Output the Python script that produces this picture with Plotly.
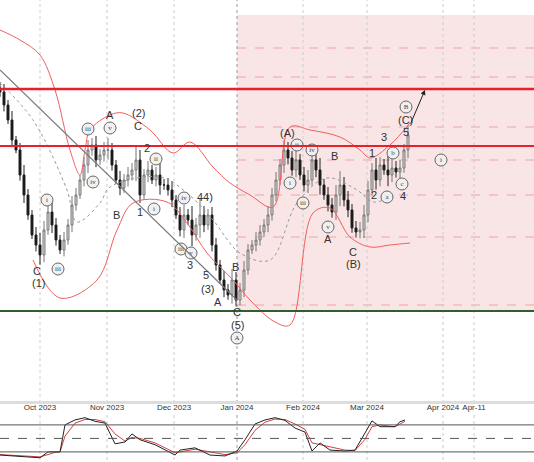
import plotly.graph_objects as go

# closes (screen-y units, converted to price = 1000 - y)
close_y = [92,105,120,140,150,175,195,215,235,245,255,230,212,225,240,250,240,225,205,195,180,165,150,145,160,155,150,150,165,180,188,180,175,170,160,195,175,170,180,175,185,185,190,200,215,230,215,220,235,225,215,225,215,245,265,280,290,295,280,300,290,270,250,245,240,232,225,215,195,180,165,150,158,170,160,175,185,180,160,170,185,195,205,212,195,185,200,210,228,232,230,215,190,170,180,165,170,175,168,172,168,150,135]
wick = [6,8,5,9,4,7,10,6,5,8,12,9,6,10,7,5,8,6,9,7,5,8,10,7,9,6,8,12,7,5,9,6,8,7,14,10,6,9,5,8,12,6,7,9,5,8,10,6,14,7,16,9,6,8,7,5,9,6,11,8,7,9,6,5,8,7,6,9,7,8,6,10,8,7,9,6,8,10,7,9,12,6,8,7,10,14,8,9,6,7,8,10,9,7,12,8,6,14,9,7,8,6,10]

ub_x = [0,20,40,55,70,80,85,90,110,123,150,173,190,213,230,250,273,290,310,340,360,370,390,410]
ub_y = [30,40,55,90,150,175,150,130,115,113,130,153,142,167,183,195,207,127,130,137,150,158,145,123]
lb_x = [33,60,97,117,133,167,187,207,233,250,275,290,313,330,350,370,390,410]
lb_y = [260,298,280,230,203,202,223,253,280,300,322,325,213,208,237,247,245,243]
mb_x = [0,33,67,77,100,110,160,187,213,240,270,297,327,357,373,390]
mb_y = [83,120,190,222,203,187,177,193,220,253,260,203,178,190,202,197]

osc_x = [0,40,48,55,60,65,75,85,95,105,115,125,132,140,155,175,180,195,210,225,237,245,255,265,275,285,295,305,312,320,330,345,355,365,372,380,390,395,400,405]
osc_k = [13,7,20,20,20,80,91,96,88,84,38,42,60,47,36,13,24,29,13,11,22,47,82,91,96,90,73,64,22,40,24,22,24,62,89,76,76,76,87,91]
osc_d = [14,9,14,19,20,55,84,92,92,87,60,44,52,50,40,18,20,26,20,14,18,36,68,86,93,92,82,70,40,36,30,24,23,48,76,80,77,76,82,88]

tick_pos = [40,107,174,237,303,367,443,474,531]
tick_txt = ["Oct 2023","Nov 2023","Dec 2023","Jan 2024","Feb 2024","Mar 2024","Apr 2024","Apr-11","M"]

plain = [("A",110,115),("(2)",138,113),("C",138,126),("2",147,148),("B",116,215),("1",140,212),
         ("44)",205,197),("3",190,265),("5",206,275),("(3)",207,289),("A",218,302),("B",235,267),
         ("C",237,312),("C",37,271),("(1)",38,283),("(5)",237,325),("(A)",287,133),("B",334,156),
         ("A",328,239),("C",353,252),("(B)",353,264),("1",372,153),("3",384,137),("2",374,195),
         ("4",403,196),("5",406,132),("(C)",405,120)]
circ = [("i",47,200),("iii",58,269),("iii",88,129),("v",110,128),("iv",93,182),("ii",156,159),
        ("i",154,209),("iv",184,198),("iii",181,249),("v",191,253),("ii",297,145),("iv",312,150),
        ("i",290,183),("iii",303,203),("v",328,227),("b",393,153),("a",387,197),("c",402,184),
        ("B",406,107),("A",237,338),("i",441,160)]

P = lambda y: 1000 - y
X = lambda px: px / 4.0

cl = [P(v) for v in close_y]
op = [cl[0] + 4] + cl[:-1]
hi = [max(o, c) + w for o, c, w in zip(op, cl, wick)]
lo = [min(o, c) - w * 0.8 for o, c, w in zip(op, cl, wick)]
xi = list(range(len(cl)))

fig = go.Figure()
fig.add_shape(type="rect", x0=X(237), x1=X(534), y0=P(311), y1=P(15), xref="x", yref="y",
              fillcolor="rgba(230,150,150,0.25)", line_width=0, layer="below")
for yy in [48, 77, 127, 160, 195, 237, 305]:
    fig.add_shape(type="line", x0=X(237), x1=X(534), y0=P(yy), y1=P(yy), xref="x", yref="y",
                  line=dict(color="rgba(220,90,90,0.45)", width=1, dash="dash"), layer="below")
for tp in tick_pos[:-1]:
    for yr in ["y", "y2"]:
        y0, y1 = (P(403), P(0)) if yr == "y" else (2, 102)
        fig.add_shape(type="line", x0=X(tp), x1=X(tp), y0=y0, y1=y1, xref="x", yref=yr,
                      line=dict(color="#999" if tp == 237 else "#ccc", width=1, dash="dot"), layer="below")
fig.add_shape(type="line", x0=X(0), x1=X(237), y0=P(70), y1=P(300), line=dict(color="#777", width=1.2))
fig.add_shape(type="line", x0=X(0), x1=X(534), y0=P(89), y1=P(89), line=dict(color="#e8202a", width=2.5))
fig.add_shape(type="line", x0=X(0), x1=X(534), y0=P(146), y1=P(146), line=dict(color="#e8202a", width=2))
fig.add_shape(type="line", x0=X(0), x1=X(534), y0=P(311), y1=P(311), line=dict(color="#2f5e2f", width=2))

fig.add_trace(go.Scatter(x=[X(v) for v in ub_x], y=[P(v) for v in ub_y], mode="lines", line=dict(color="#f06060", width=1, shape="spline")))
fig.add_trace(go.Scatter(x=[X(v) for v in lb_x], y=[P(v) for v in lb_y], mode="lines", line=dict(color="#f06060", width=1, shape="spline")))
fig.add_trace(go.Scatter(x=[X(v) for v in mb_x], y=[P(v) for v in mb_y], mode="lines", line=dict(color="#999", width=1, dash="dot", shape="spline")))
fig.add_trace(go.Candlestick(x=xi, open=op, high=hi, low=lo, close=cl,
                             increasing=dict(line=dict(color="#777", width=1), fillcolor="#ddd"),
                             decreasing=dict(line=dict(color="#222", width=1), fillcolor="#111"),
                             whiskerwidth=0))
fig.add_annotation(x=X(425), y=P(90), ax=X(410), ay=P(125), xref="x", yref="y", axref="x", ayref="y",
                   showarrow=True, arrowhead=2, arrowsize=1, arrowwidth=1, arrowcolor="#222", text="")
for t, px, py in plain:
    fig.add_annotation(x=X(px), y=P(py), text=t, showarrow=False, font=dict(size=11, color="#333", family="Liberation Sans"))
fig.add_trace(go.Scatter(x=[X(c[1]) for c in circ], y=[P(c[2]) for c in circ], mode="markers+text",
                         text=[c[0] for c in circ], textposition="middle center",
                         textfont=dict(size=7, color="#444", family="Liberation Serif"),
                         marker=dict(symbol="circle", size=12, color="rgba(240,240,240,0.9)", line=dict(color="#666", width=1))))

fig.add_trace(go.Scatter(x=[X(v) for v in osc_x], y=osc_d, mode="lines", line=dict(color="#d04040", width=1), yaxis="y2"))
fig.add_trace(go.Scatter(x=[X(v) for v in osc_x], y=osc_k, mode="lines", line=dict(color="#222", width=1), yaxis="y2"))
for lv, d in [(80, "solid"), (50, "dash"), (20, "solid")]:
    fig.add_shape(type="line", x0=X(0), x1=X(534), y0=lv, y1=lv, xref="x", yref="y2", line=dict(color="#555", width=1, dash=d))
fig.add_shape(type="line", x0=X(0), x1=X(534), y0=104.5, y1=104.5, xref="x", yref="y2", line=dict(color="#555", width=1))

fig.update_layout(
    width=534, height=462, margin=dict(l=0, r=0, t=0, b=0, autoexpand=False), showlegend=False,
    paper_bgcolor="white", plot_bgcolor="white",
    xaxis=dict(range=[0, X(534)], showgrid=False, zeroline=False, rangeslider=dict(visible=False),
               tickvals=[X(v) for v in tick_pos], ticktext=tick_txt, ticks="", side="top", automargin=False,
               anchor="y2", tickfont=dict(size=8, color="#333", family="Liberation Sans"), ticklabelstandoff=2),
    yaxis=dict(domain=[1 - 403 / 462, 1], range=[P(403), P(0)], visible=False, automargin=False),
    yaxis2=dict(domain=[2 / 462, 47 / 462], range=[2, 102], visible=False, automargin=False),
)
fig.add_shape(type="rect", x0=0, x1=1, y0=1 - 404 / 462, y1=1 - 401 / 462, xref="paper", yref="paper",
              fillcolor="#ddd", line_width=0)
fig.write_html("out.html", config={"displayModeBar": False}, post_script="document.body.style.margin='0';")
